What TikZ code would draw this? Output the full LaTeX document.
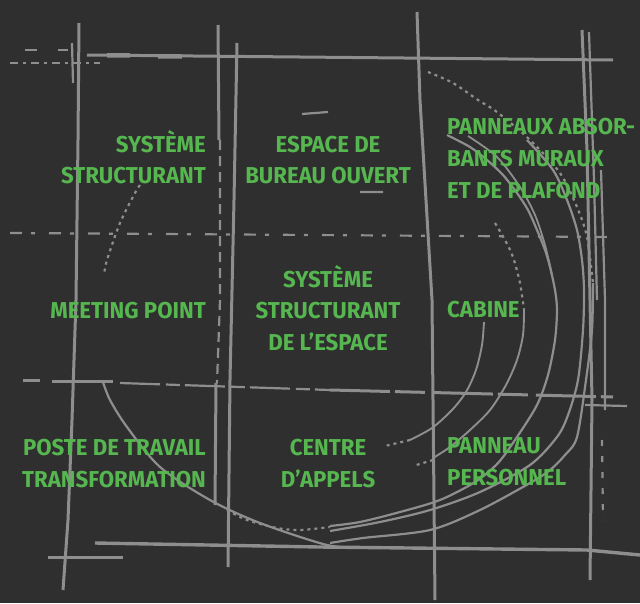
\documentclass[tikz,border=0pt]{standalone}
\usepackage{fontspec}
\setmainfont{Fira Sans}[FakeStretch=0.965]
\definecolor{bgc}{HTML}{2F2F2F}
\definecolor{lgc}{HTML}{8E8E8E}
\definecolor{txc}{HTML}{56B64F}
\begin{document}
\begin{tikzpicture}[x=1pt,y=-1pt,
  sk/.style={draw=lgc, line width=3pt},
  skthin/.style={draw=lgc, line width=2.2pt},
  dots/.style={draw=lgc, line width=2.2pt, dash pattern=on 3pt off 4pt},
  lbl/.style={text=txc, font=\fontsize{23}{32}\selectfont\bfseries, inner sep=0pt}]
\fill[bgc] (0,0) rectangle (640,603);
\useasboundingbox (0,0) rectangle (640,603);
% horizontal lines
\draw[sk] (87,55) -- (300,57) -- (613,60);
\draw[sk, line width=4.5pt] (107,55.3) -- (130,55.5) (158,56.3) -- (182,56.5);
\draw[skthin, dash pattern=on 8pt off 5pt on 3pt off 5pt] (10,63) -- (100,63);
\draw[skthin] (25,50) -- (37,50) (58,50) -- (68,50);
\draw[skthin, dash pattern=on 12pt off 9pt on 4pt off 14pt] (10,233) -- (613,237);
\draw[sk] (23,380) -- (40,380) (52,381) -- (113,381);
\draw[skthin, dash pattern=on 40pt off 6pt on 14pt off 5pt] (120,383) -- (330,390);
\draw[sk, dash pattern=on 60pt off 5pt on 30pt off 8pt] (330,390) -- (613,397);
\draw[skthin] (585,405) -- (627,406);
\draw[sk, line width=3.4pt] (95,543) -- (320,547) -- (587,550) -- (640,555);
\draw[sk] (48,557) -- (123,557);
\draw[skthin] (302,114) -- (328,112) (360,192) -- (383,192);
% vertical lines
\draw[sk] (79,23) -- (78,140) -- (76,300) -- (72,420) -- (68,520) -- (63,590);
\draw[skthin] (72,43) -- (73,83);
\draw[sk] (218,25) -- (219,140);
\draw[skthin, dash pattern=on 10pt off 6pt] (220,140) -- (220,300) -- (217,383);
\draw[sk] (216,383) -- (215,505);
\draw[sk] (237,43) -- (234,200) -- (230,380) -- (228,567);
\draw[sk] (417,12) -- (420,100) -- (426,200) -- (432,300) -- (433,400) -- (435,600);
\draw[sk] (582,30) -- (587,150) -- (590,300) -- (592,400) -- (590,580);
\draw[skthin] (589,32) -- (594,180) -- (597,300);
\draw[skthin] (601,170) -- (605,300) -- (605,410);
\draw[skthin, dash pattern=on 6pt off 10pt] (602,440) -- (603,520);
% left arc
\draw[dots] plot[smooth] coordinates {(140,185) (135,193) (120,223) (107,260) (104,275)};
\draw[skthin] plot[smooth] coordinates {(103,382) (110,400) (127,427) (160,467) (210,500) (260,523) (327,545) (360,547)};
\draw[dots] plot[smooth] coordinates {(227,510) (247,520) (277,528) (300,530) (330,527)};
% right arcs
\draw[skthin, line width=1.9pt] plot[smooth] coordinates {(484,322) (482,345) (476,370) (466,392) (452,410) (432,428) (410,440)};
\draw[dots] (410,440) -- (385,446);
\draw[dots] plot[smooth] coordinates {(495,223) (505,240) (513,257) (520,283) (524,310)};
\draw[skthin, line width=1.9pt] plot[smooth] coordinates {(524,310) (523,335) (517,360) (506,385) (490,410) (470,430) (450,447) (433,458)};
\draw[dots] (433,460) -- (413,466);
\draw[skthin] plot[smooth] coordinates {(447,135) (470,147) (487,160) (503,175) (517,193) (528,210) (537,230) (545,250) (550,267) (555,290) (557,310) (555,340) (548,375) (537,405) (517,437) (498,463) (475,482) (440,500) (400,512) (360,522) (330,526)};
\draw[skthin, line width=1.8pt] plot[smooth] coordinates {(468,136) (497,157) (520,187) (535,215) (545,245) (552,275)};
\draw[skthin] plot[smooth] coordinates {(527,140) (553,170) (567,200) (577,230) (582,260) (584,290) (583,330) (578,380) (568,415) (557,437) (530,465) (480,492) (430,510) (380,522) (330,531)};
\draw[dots] plot[smooth] coordinates {(428,72) (453,83) (478,100) (497,112) (530,140) (560,173) (577,207) (587,237) (593,283)};
\draw[skthin] plot[smooth] coordinates {(593,283) (592,330) (586,380) (577,437) (565,455) (550,470) (530,483) (480,510) (430,530) (363,538) (330,543)};
% labels
\node[lbl, anchor=base east] (l1a) at (206,152) {SYSTÈME};
\node[lbl, anchor=base east] (l1b) at (206,183) {STRUCTURANT};
\node[lbl, anchor=base] (l2a) at (328,152) {ESPACE DE};
\node[lbl, anchor=base] (l2b) at (328,183) {BUREAU OUVERT};
\node[lbl, anchor=base west] (l3a) at (447,134) {PANNEAUX ABSOR-};
\node[lbl, anchor=base west] (l3b) at (447,166) {BANTS MURAUX};
\node[lbl, anchor=base west] (l3c) at (447,198) {ET DE PLAFOND};
\node[lbl, anchor=base east] (l4) at (206,318) {MEETING POINT};
\node[lbl, anchor=base] (l5a) at (328,287) {SYSTÈME};
\node[lbl, anchor=base] (l5b) at (328,318) {STRUCTURANT};
\node[lbl, anchor=base] (l5c) at (328,350) {DE L’ESPACE};
\node[lbl, anchor=base west] (l6) at (447,317) {CABINE};
\node[lbl, anchor=base east] (l7a) at (206,455) {POSTE DE TRAVAIL};
\node[lbl, anchor=base east] (l7b) at (206,487) {TRANSFORMATION};
\node[lbl, anchor=base] (l8a) at (328,455) {CENTRE};
\node[lbl, anchor=base] (l8b) at (328,487) {D’APPELS};
\node[lbl, anchor=base west] (l9a) at (447,453) {PANNEAU};
\node[lbl, anchor=base west] (l9b) at (447,485) {PERSONNEL};
\end{tikzpicture}
\end{document}
